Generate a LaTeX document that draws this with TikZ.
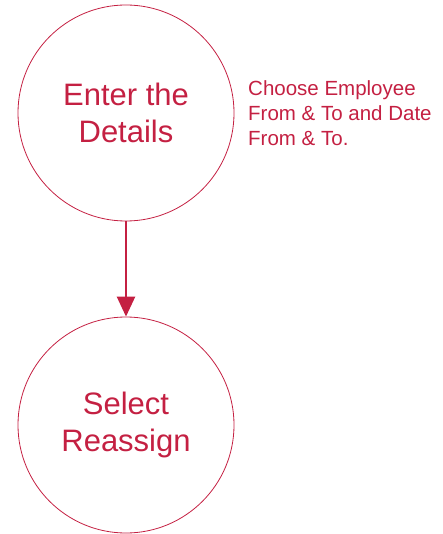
\documentclass[tikz,border=0pt]{standalone}
\usepackage{fontspec}
\setmainfont{Liberation Sans}
\usepackage{tikz}
\usetikzlibrary{arrows.meta}
\definecolor{crimson}{HTML}{C42042}
\tikzset{
  stepCircle/.style={circle, draw=crimson, line width=0.8pt, minimum size=216pt,
    inner sep=0pt, text=crimson, align=center, font=\fontsize{31}{37}\selectfont},
  stepNote/.style={text=crimson, align=left, inner sep=0pt,
    font=\fontsize{20.5}{25}\selectfont},
  stepArrow/.style={draw=crimson, line width=2.5pt,
    -{Triangle[width=18pt,length=20pt]}}
}
\begin{document}
\begin{tikzpicture}[x=1pt,y=-1pt]
  \useasboundingbox (0,0) rectangle (442,534);

  \node[stepCircle] (enter) at (126,113) {Enter the\\Details};
  \node[stepCircle] (select) at (126,425) {Select\\Reassign};

  \node[stepNote, anchor=north west] (note) at (248,80)
    {Choose Employee\\From \& To and Date\\From \& To.};

  \draw[stepArrow] (enter.south) -- (select.north);
\end{tikzpicture}
\end{document}
